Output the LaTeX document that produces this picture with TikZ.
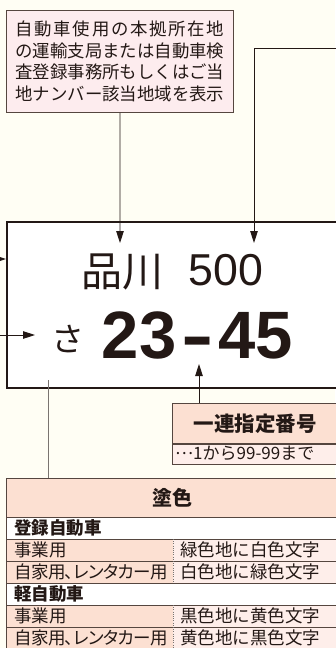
\documentclass[tikz,border=0pt]{standalone}
\usepackage{fontspec}
\usepackage{graphicx}
\setmainfont{Noto Sans CJK JP}
\newfontfamily\jpp{Noto Sans CJK JP}[RawFeature=+palt, LetterSpace=-3]
\newfontfamily\platenum{Liberation Sans}
\usetikzlibrary{arrows.meta}
\definecolor{bgc}{HTML}{FFFEF4}
\definecolor{callfill}{HTML}{FDECEE}
\definecolor{peach}{HTML}{FCE0D2}
\definecolor{lpink}{HTML}{FEEEEA}
\definecolor{edge}{HTML}{55463F}
\definecolor{ink}{HTML}{231815}
\definecolor{greyline}{HTML}{7A7470}
\begin{document}
\begin{tikzpicture}[x=1pt,y=-1pt,
  conn/.style={draw=ink, line width=0.9pt},
  tip/.style={-{Triangle[length=12pt,width=7.5pt]}},
  txt/.style={inner sep=0pt, text=ink},
  boxed/.style={draw=edge, line width=0.9pt, anchor=north west, inner sep=0pt, text=ink},
  cellL/.style={fill=peach, anchor=north west, inner sep=0pt, minimum width=167pt, minimum height=22pt},
  cellR/.style={fill=lpink, anchor=north west, inner sep=0pt, minimum width=165pt, minimum height=22pt},
  cellH/.style={fill=white, anchor=north west, inner sep=0pt, minimum width=332pt, minimum height=22pt},
  rowtxt/.style={txt, anchor=west, font=\fontsize{17.5}{17.5}\selectfont},
  hdrtxt/.style={txt, anchor=west, font=\bfseries\fontsize{17.5}{17.5}\selectfont},
  rowline/.style={draw=edge, line width=0.9pt},
  divider/.style={draw=greyline, line width=0.6pt, dash pattern=on 1pt off 1.2pt},
]
\useasboundingbox (0,0) rectangle (335,648);
\fill[bgc] (0,0) rectangle (335,648);

% callout box (region)
\node[boxed, fill=callfill, minimum width=227pt, minimum height=102pt,
      font=\fontsize{17.4}{21.5}\selectfont, align=left] (area) at (6,10)
 {\makebox[12em][s]{自\hfill 動\hfill 車\hfill 使\hfill 用\hfill の\hfill 本\hfill 拠\hfill 所\hfill 在\hfill 地}\\
  の運輸支局または自動車検\\
  査登録事務所もしくはご当\\
  地ナンバー該当地域を表示};

% plate
\node[draw=ink, line width=1.8pt, fill=white, anchor=north west,
      minimum width=345pt, minimum height=166pt, inner sep=0pt] (plate) at (6,221) {};

\node[txt, anchor=base, font=\fontsize{41}{41}\selectfont] (kanji) at (122,286) {品川};
\node[txt, anchor=base, font=\platenum\fontsize{44.7}{44.7}\selectfont] (cls) at (226,285) {500};
\node[txt, anchor=base, font=\fontsize{33}{33}\selectfont] (kana) at (68,351) {さ};
\node[txt, anchor=base, font=\platenum\bfseries\fontsize{67}{67}\selectfont] (num) at (197.5,358) {23\kern5pt\scalebox{1.45}[1]{-}\kern5pt45};

% connectors into the plate
\coordinate (tA) at (120,243);
\draw[conn,tip] (area.south) -- (tA);
\coordinate (rA) at (340,48);
\coordinate (tB) at (254,243);
\draw[conn,tip] (rA) -| (tB);
\coordinate (lA) at (-3,259);
\draw[conn,tip] (lA) -- (plate.west |- lA);
\coordinate (lB) at (-3,335);
\coordinate (tL2) at (35,335);
\draw[conn,tip] (lB) -- (tL2);

% serial number box
\node[boxed, fill=peach, minimum width=166pt, minimum height=40pt,
      font=\bfseries\fontsize{20.5}{20.5}\selectfont] (serial) at (172,403) {一連指定番号};
\node[boxed, fill=lpink, minimum width=166pt, minimum height=20pt] (serialsub) at (serial.south west) {};
\node[txt, anchor=west, font=\fontsize{17}{17}\selectfont] (serialtxt) at (175,453) {\raisebox{0.3em}{…}1から99-99まで};
\coordinate (tC) at (199,364);
\draw[conn,tip] (serial.north -| tC) -- (tC);

% colour table
\node[boxed, fill=peach, minimum width=332pt, minimum height=39pt,
      font=\bfseries\fontsize{20}{20}\selectfont] (paint) at (6,478) {塗色};

\node[cellH] (h1) at (6,517) {};
\node[cellL] (a1) at (6,539) {};
\node[cellR] (b1) at (173,539) {};
\node[cellL] (a2) at (6,561) {};
\node[cellR] (b2) at (173,561) {};
\node[cellH] (h2) at (6,583) {};
\node[cellL] (a3) at (6,605) {};
\node[cellR] (b3) at (173,605) {};
\node[cellL, minimum height=47pt] (a4) at (6,627) {};
\node[cellR, minimum height=47pt] (b4) at (173,627) {};

\foreach \yy in {517,539,561,583,605,627}{\draw[rowline] (6,\yy) -- (340,\yy);}
\draw[rowline] (paint.north west) -- (6,660);
\draw[divider] (173,539) -- (173,583);
\draw[divider] (173,605) -- (173,660);

\node[hdrtxt] at (14,528) {登録自動車};
\node[rowtxt] at (14,550) {事業用};
\node[rowtxt] at (180,550) {緑色地に白色文字};
\node[rowtxt] at (14,572) {\jpp 自家用、レンタカー用};
\node[rowtxt] at (180,572) {白色地に緑色文字};
\node[hdrtxt] at (14,594) {軽自動車};
\node[rowtxt] at (14,616) {事業用};
\node[rowtxt] at (180,616) {黒色地に黄色文字};
\node[rowtxt] at (14,638) {\jpp 自家用、レンタカー用};
\node[rowtxt] at (180,638) {黄色地に黒色文字};

% line from plate down to the colour table
\coordinate (pc) at (48,380);
\draw[draw=greyline, line width=0.9pt] (pc) -- (pc |- paint.north);
\end{tikzpicture}
\end{document}
